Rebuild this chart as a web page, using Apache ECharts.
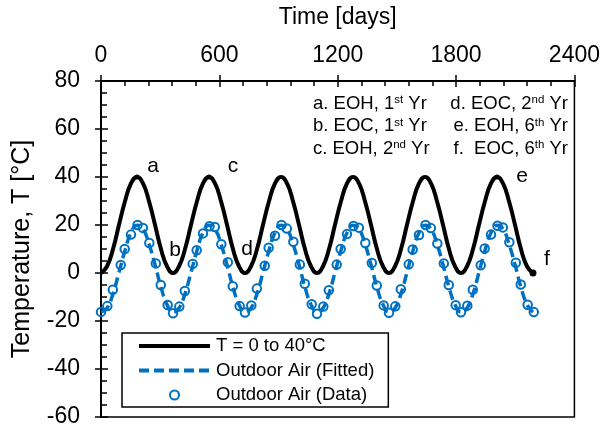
<!DOCTYPE html>
<html><head><meta charset="utf-8">
<script src="https://cdn.jsdelivr.net/npm/echarts@6/dist/echarts.min.js"></script>
<style>html,body{margin:0;padding:0;background:#fff}#c{width:603px;height:430px}</style>
</head><body><div id="c"></div>
<script>
// ---- data ----
const monthT = [
  0,30,61,91,122,152,183,213,243,274,304,335,
  365,395,426,456,487,517,548,578,608,639,669,700,
  730,760,791,821,852,882,913,943,973,1004,1034,1065,
  1095,1125,1156,1186,1217,1247,1278,1308,1338,1369,1399,1430,
  1460,1490,1521,1551,1582,1612,1643,1673,1703,1734,1764,1795,
  1825,1855,1886,1916,1947,1977,2008,2038,2068,2099,2129,2160,
  2190];
const blackV = [
  0,2.7,10,20,30,37.3,40,37.3,30,20,10,2.7,
  0,2.7,10,20,30,37.3,40,37.3,30,20,10,2.7,
  0,2.7,10,20,30,37.3,40,37.3,30,20,10,2.7,
  0,2.7,10,20,30,37.3,40,37.3,30,20,10,2.7,
  0,2.7,10,20,30,37.3,40,37.3,30,20,10,2.7,
  0,2.7,10,20,30,37.3,40,37.3,30,20,10,2.7,
  0];
const fittedV = [
  -16.3,-14.7,-8.6,0.2,9.5,16.8,19.9,18.3,12.2,3.4,-5.9,-13.2,
  -16.3,-14.7,-8.6,0.2,9.5,16.8,19.9,18.3,12.2,3.4,-5.9,-13.2,
  -16.3,-14.7,-8.6,0.2,9.5,16.8,19.9,18.3,12.2,3.4,-5.9,-13.2,
  -16.3,-14.7,-8.6,0.2,9.5,16.8,19.9,18.3,12.2,3.4,-5.9,-13.2,
  -16.3,-14.7,-8.6,0.2,9.5,16.8,19.9,18.3,12.2,3.4,-5.9,-13.2,
  -16.3,-14.7,-8.6,0.2,9.5,16.8,19.9,18.3,12.2,3.4,-5.9,-13.2,
  -16.3];
const dataT = [
  0,32,60,100,120,152,185,212,245,278,303,338,
  365,397,425,465,485,517,550,577,610,643,668,703,
  730,762,790,830,850,882,915,942,975,1008,1033,1068,
  1095,1127,1155,1195,1215,1247,1280,1307,1340,1373,1398,1433,
  1460,1492,1520,1560,1580,1612,1645,1672,1705,1738,1763,1798,
  1825,1857,1885,1925,1945,1977,2010,2037,2070,2103,2128,2163,
  2194];
const dataV = [
  -16.2,-13.8,-7,3.3,10,16,20,18.8,12.5,4,-5,-13.3,
  -16.8,-14,-7.5,3.8,9.5,16.5,19.5,19.2,12,4.5,-5.5,-13.8,
  -16.5,-13.5,-6.5,3,10.5,15.5,20,18.5,13,3.5,-4.5,-13,
  -17,-14,-7.2,3.5,10,16.2,19.6,18.9,12.5,4.2,-5.2,-13.5,
  -16.6,-13.9,-6.8,3.6,9.8,15.8,20,18.7,12.3,4,-5,-13.4,
  -16.4,-13.6,-7,3.2,10.2,16,19.7,19,12.8,4.3,-4.8,-13.2,
  -16.3];
const markNames = ['a','b','c','d','e','f'];
const markT = [182.5,365,547.5,730,2007.5,2190];
const markV = [40,0,40,0,40,0];
const xTicks = [0,600,1200,1800,2400];
const yTicks = [-60,-40,-20,0,20,40,60,80];
const noteLeft = [['a. EOH, 1','st',' Yr'],['b. EOC, 1','st',' Yr'],['c. EOH, 2','nd',' Yr']];
const noteRight = [['d. EOC, 2','nd',' Yr'],['e. EOH, 6','th',' Yr'],['f.  EOC, 6','th',' Yr']];
const legendNames = ['T = 0 to 40°C','Outdoor Air (Fitted)','Outdoor Air (Data)'];

// ---- chart ----
const FONT = 'Liberation Sans';
const BLUE = '#0070C0';
const chart = echarts.init(document.getElementById('c'), null, {renderer:'canvas'});
const zip = (a,b)=>a.map((v,i)=>[v,b[i]]);
const markOffsets = [[16,-11],[2,-23],[24,-11],[2,-24],[25,-1],[14,-14]];
const markSizes = [5,4,5,4,5,7];
const plain = v => String(v);

function axisCommon(){ return {
  axisLine:{show:true,onZero:false,lineStyle:{color:'#000',width:2}},
  splitLine:{show:false}
};}
const xMin = xTicks[0], xMax = xTicks[xTicks.length-1], xInt = xTicks[1]-xTicks[0];
const yMin = yTicks[0], yMax = yTicks[yTicks.length-1], yInt = yTicks[1]-yTicks[0];

function noteText(parts){ return parts[0] + '{s|' + parts[1] + '}' + parts[2]; }
const noteRich = {s:{fontSize:11.5, fontFamily:FONT, color:'#000', verticalAlign:'top', padding:[0,0,6,0]}};
const graphics = [];
noteLeft.forEach((p,i)=>graphics.push({type:'text', left:313, top:94+i*22.5, z:10,
  style:{text:noteText(p), fontSize:18.5, fontFamily:FONT, fill:'#000', rich:noteRich}}));
noteRight.forEach((p,i)=>graphics.push({type:'text', right:35, top:94+i*22.5, z:10,
  style:{text:noteText(p), fontSize:18.5, fontFamily:FONT, fill:'#000', rich:noteRich, align:'right'}}));

chart.setOption({
  animation:false,
  backgroundColor:'#fff',
  textStyle:{fontFamily:FONT, color:'#000'},
  grid:{left:101, right:26, top:81, bottom:13, show:true, borderColor:'#000', borderWidth:1.5, containLabel:false},
  xAxis:[
    Object.assign(axisCommon(),{type:'value', position:'top', min:xMin, max:xMax, interval:xInt,
      axisTick:{show:true, inside:false, length:6, lineStyle:{color:'#000', width:1.5}},
      axisLabel:{show:true, fontSize:23, color:'#000', margin:14, fontFamily:FONT, formatter:plain},
      name:'Time [days]', nameLocation:'middle', nameGap:52,
      nameTextStyle:{fontSize:23, color:'#000', fontFamily:FONT}}),
    Object.assign(axisCommon(),{type:'value', position:'top', offset:0, min:xMin, max:xMax, interval:xInt,
      axisTick:{show:true, inside:true, length:6, lineStyle:{color:'#000', width:1.5}},
      minorTick:{show:true, splitNumber:5, length:5, lineStyle:{color:'#000', width:1.5}},
      axisLabel:{show:false}})
  ],
  yAxis:[
    Object.assign(axisCommon(),{type:'value', position:'left', min:yMin, max:yMax, interval:yInt,
      axisTick:{show:true, inside:false, length:6, lineStyle:{color:'#000', width:1.5}},
      axisLabel:{show:true, fontSize:23, color:'#000', margin:21, fontFamily:FONT, formatter:plain},
      name:'Temperature, T [°C]', nameLocation:'middle', nameGap:66,
      nameTextStyle:{fontSize:25, color:'#000', fontFamily:FONT}}),
    Object.assign(axisCommon(),{type:'value', position:'left', offset:0, min:yMin, max:yMax, interval:yInt,
      axisTick:{show:true, inside:true, length:7, lineStyle:{color:'#000', width:1.5}},
      minorTick:{show:true, splitNumber:4, length:6, lineStyle:{color:'#000', width:1.5}},
      axisLabel:{show:false}})
  ],
  legend:{
    show:true, orient:'vertical', left:122, top:333,
    data:[
      {name:legendNames[0], itemStyle:{opacity:0}, lineStyle:{color:'#000', width:4}},
      {name:legendNames[1], itemStyle:{opacity:0}, lineStyle:{color:BLUE, width:4, type:[10,5]}},
      {name:legendNames[2], icon:'circle', itemStyle:{color:'#fff', borderColor:BLUE, borderWidth:2, opacity:1}}
    ],
    itemWidth:71, itemHeight:9, itemGap:2.5,
    padding:[2,14,1,15],
    borderColor:'#000', borderWidth:1.5, backgroundColor:'#fff',
    textStyle:{fontSize:18.5, color:'#000', fontFamily:FONT, lineHeight:22, padding:[0,0,0,1]},
    selectedMode:false
  },
  graphic:graphics,
  series:[
    {name:legendNames[0], type:'line', xAxisIndex:0, yAxisIndex:0, data:zip(monthT,blackV),
     smooth:0.5, showSymbol:false, symbol:'none', lineStyle:{color:'#000', width:4}, itemStyle:{color:'#000'}, z:3},
    {name:legendNames[1], type:'line', xAxisIndex:0, yAxisIndex:0, data:zip(monthT,fittedV),
     smooth:0.5, showSymbol:false, symbol:'none', lineStyle:{color:BLUE, width:3.5, type:[10,5]}, itemStyle:{color:BLUE}, z:3},
    {name:legendNames[2], type:'scatter', xAxisIndex:0, yAxisIndex:0, data:zip(dataT,dataV),
     symbol:'circle', symbolSize:8.5, itemStyle:{color:'rgba(255,255,255,0)', borderColor:BLUE, borderWidth:2, opacity:1}, z:4},
    {name:'marks', type:'scatter', xAxisIndex:0, yAxisIndex:0,
     data:markT.map((t,i)=>({value:[t,markV[i]], symbolSize:markSizes[i],
        label:{show:true, formatter:markNames[i], position:'inside', offset:markOffsets[i], fontSize:21,
               color:'#000', textBorderWidth:0, textBorderColor:'transparent', fontFamily:FONT}})),
     symbol:'circle', itemStyle:{color:'#000', opacity:1}, z:5}
  ]
});
</script></body></html>
